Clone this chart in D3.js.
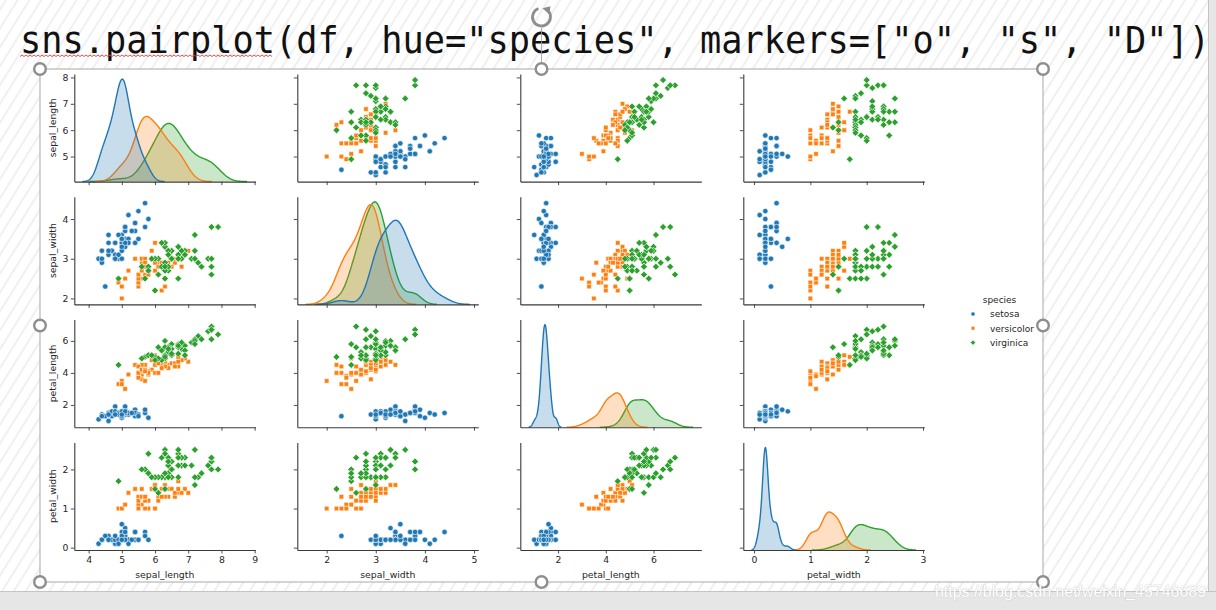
<!DOCTYPE html>
<html><head><meta charset="utf-8">
<script src="https://cdn.jsdelivr.net/npm/d3@7/dist/d3.min.js"></script>
<style>html,body{margin:0;padding:0;background:#fff;}svg{display:block;}</style>
</head><body><svg id="c" width="1216" height="610"></svg>
<script>
// ---------------- data (iris, as plotted) ----------------
const variables = ["sepal_length", "sepal_width", "petal_length", "petal_width"];
const speciesNames = ["setosa", "versicolor", "virginica"];
const speciesColors = ["#1f77b4", "#ff7f0e", "#2ca02c"];
const sepal_length = [
 5.1,4.9,4.7,4.6,5.0,5.4,4.6,5.0,4.4,4.9,5.4,4.8,4.8,4.3,5.8,5.7,5.4,5.1,5.7,5.1,5.4,5.1,4.6,5.1,4.8,5.0,5.0,5.2,5.2,4.7,4.8,5.4,5.2,5.5,4.9,5.0,5.5,4.9,4.4,5.1,5.0,4.5,4.4,5.0,5.1,4.8,5.1,4.6,5.3,5.0,
 7.0,6.4,6.9,5.5,6.5,5.7,6.3,4.9,6.6,5.2,5.0,5.9,6.0,6.1,5.6,6.7,5.6,5.8,6.2,5.6,5.9,6.1,6.3,6.1,6.4,6.6,6.8,6.7,6.0,5.7,5.5,5.5,5.8,6.0,5.4,6.0,6.7,6.3,5.6,5.5,5.5,6.1,5.8,5.0,5.6,5.7,5.7,6.2,5.1,5.7,
 6.3,5.8,7.1,6.3,6.5,7.6,4.9,7.3,6.7,7.2,6.5,6.4,6.8,5.7,5.8,6.4,6.5,7.7,7.7,6.0,6.9,5.6,7.7,6.3,6.7,7.2,6.2,6.1,6.4,7.2,7.4,7.9,6.4,6.3,6.1,7.7,6.3,6.4,6.0,6.9,6.7,6.9,5.8,6.8,6.7,6.7,6.3,6.5,6.2,5.9];
const sepal_width = [
 3.5,3.0,3.2,3.1,3.6,3.9,3.4,3.4,2.9,3.1,3.7,3.4,3.0,3.0,4.0,4.4,3.9,3.5,3.8,3.8,3.4,3.7,3.6,3.3,3.4,3.0,3.4,3.5,3.4,3.2,3.1,3.4,4.1,4.2,3.1,3.2,3.5,3.6,3.0,3.4,3.5,2.3,3.2,3.5,3.8,3.0,3.8,3.2,3.7,3.3,
 3.2,3.2,3.1,2.3,2.8,2.8,3.3,2.4,2.9,2.7,2.0,3.0,2.2,2.9,2.9,3.1,3.0,2.7,2.2,2.5,3.2,2.8,2.5,2.8,2.9,3.0,2.8,3.0,2.9,2.6,2.4,2.4,2.7,2.7,3.0,3.4,3.1,2.3,3.0,2.5,2.6,3.0,2.6,2.3,2.7,3.0,2.9,2.9,2.5,2.8,
 3.3,2.7,3.0,2.9,3.0,3.0,2.5,2.9,2.5,3.6,3.2,2.7,3.0,2.5,2.8,3.2,3.0,3.8,2.6,2.2,3.2,2.8,2.8,2.7,3.3,3.2,2.8,3.0,2.8,3.0,2.8,3.8,2.8,2.8,2.6,3.0,3.4,3.1,3.0,3.1,3.1,3.1,2.7,3.2,3.3,3.0,2.5,3.0,3.4,3.0];
const petal_length = [
 1.4,1.4,1.3,1.5,1.4,1.7,1.4,1.5,1.4,1.5,1.5,1.6,1.4,1.1,1.2,1.5,1.3,1.4,1.7,1.5,1.7,1.5,1.0,1.7,1.9,1.6,1.6,1.5,1.4,1.6,1.6,1.5,1.5,1.4,1.5,1.2,1.3,1.4,1.3,1.5,1.3,1.3,1.3,1.6,1.9,1.4,1.6,1.4,1.5,1.4,
 4.7,4.5,4.9,4.0,4.6,4.5,4.7,3.3,4.6,3.9,3.5,4.2,4.0,4.7,3.6,4.4,4.5,4.1,4.5,3.9,4.8,4.0,4.9,4.7,4.3,4.4,4.8,5.0,4.5,3.5,3.8,3.7,3.9,5.1,4.5,4.5,4.7,4.4,4.1,4.0,4.4,4.6,4.0,3.3,4.2,4.2,4.2,4.3,3.0,4.1,
 6.0,5.1,5.9,5.6,5.8,6.6,4.5,6.3,5.8,6.1,5.1,5.3,5.5,5.0,5.1,5.3,5.5,6.7,6.9,5.0,5.7,4.9,6.7,4.9,5.7,6.0,4.8,4.9,5.6,5.8,6.1,6.4,5.6,5.1,5.6,6.1,5.6,5.5,4.8,5.4,5.6,5.1,5.1,5.9,5.7,5.2,5.0,5.2,5.4,5.1];
const petal_width = [
 0.2,0.2,0.2,0.2,0.2,0.4,0.3,0.2,0.2,0.1,0.2,0.2,0.1,0.1,0.2,0.4,0.4,0.3,0.3,0.3,0.2,0.4,0.2,0.5,0.2,0.2,0.4,0.2,0.2,0.2,0.2,0.4,0.1,0.2,0.2,0.2,0.2,0.1,0.2,0.2,0.3,0.3,0.2,0.6,0.4,0.3,0.2,0.2,0.2,0.2,
 1.4,1.5,1.5,1.3,1.5,1.3,1.6,1.0,1.3,1.4,1.0,1.5,1.0,1.4,1.3,1.4,1.5,1.0,1.5,1.1,1.8,1.3,1.5,1.2,1.3,1.4,1.4,1.7,1.5,1.0,1.1,1.0,1.2,1.6,1.5,1.6,1.5,1.3,1.3,1.3,1.2,1.4,1.2,1.0,1.3,1.2,1.3,1.3,1.1,1.3,
 2.5,1.9,2.1,1.8,2.2,2.1,1.7,1.8,1.8,2.5,2.0,1.9,2.1,2.0,2.4,2.3,1.8,2.2,2.3,1.5,2.3,2.0,2.0,1.8,2.1,1.8,1.8,1.8,2.1,1.6,1.9,2.0,2.2,1.5,1.4,2.3,2.4,1.8,1.8,2.1,2.4,2.3,1.9,2.3,2.5,2.3,1.9,2.0,2.3,1.8];
const speciesCount = [50, 50, 50];
const species = speciesNames.flatMap((s, i) => Array(speciesCount[i]).fill(s));
const columns = [sepal_length, sepal_width, petal_length, petal_width];
// tick labels
const xTickValues = [[4,5,6,7,8,9],[2,3,4,5],[2,4,6],[0,1,2,3]];
const yTickValues = [[5,6,7,8],[2,3,4],[2,4,6],[0,1,2]];
// y limits of the rows
const yDomains = [[4.05, 8.13],[1.85, 4.56],[0.61, 7.33],[-0.06, 2.69]];
const titleText = 'sns.pairplot(df, hue="species", markers=["o", "s", "D"])';
const watermark = "https://blog.csdn.net/weixin_45746689";

// ---------------- layout ----------------
const colLeft = j => 74.3 + 223 * j, colW = 181;
const rowTop = i => 74 + 122.8 * i, rowH = 107.6;
const INK = "#262626";

const svg = d3.select("#c");
const defs = svg.append("defs");
const pat = defs.append("pattern").attr("id","hatch").attr("patternUnits","userSpaceOnUse")
  .attr("width",10).attr("height",10).attr("patternTransform","rotate(32)");
pat.append("rect").attr("width",10).attr("height",10).attr("fill","#ffffff");
pat.append("line").attr("x1",5).attr("y1",0).attr("x2",5).attr("y2",10).attr("stroke","#e9e9e9").attr("stroke-width",1.3);

// slide background
svg.append("rect").attr("width",1216).attr("height",610).attr("fill","#e6e6e6");
svg.append("rect").attr("x",0).attr("y",0).attr("width",1208).attr("height",591).attr("fill","url(#hatch)");
svg.append("line").attr("x1",1208.5).attr("x2",1208.5).attr("y1",0).attr("y2",591).attr("stroke","#c4c4c4");
svg.append("line").attr("x1",0).attr("x2",1216).attr("y1",591.5).attr("y2",591.5).attr("stroke","#c4c4c4");

// title text
svg.append("text").attr("transform","translate(20,53) scale(1,1.07)").attr("font-family","DejaVu Sans Mono, Liberation Mono, monospace")
  .attr("font-size",35).attr("fill","#111").attr("textLength",1190).attr("lengthAdjust","spacingAndGlyphs")
  .text(titleText);
// red squiggle under sns.pairplot
{
  let p = "M20,56.5"; let up = true;
  for (let x = 22; x <= 272; x += 2) { p += `L${x},${up ? 55 : 56.5}`; up = !up; }
  svg.append("path").attr("d",p).attr("fill","none").attr("stroke","#e23a3a").attr("stroke-width",0.9);
}

// picture frame
svg.append("rect").attr("x",40).attr("y",69).attr("width",1003).attr("height",513)
  .attr("fill","#fff").attr("stroke","#a8a8a8").attr("stroke-width",1);

// ---------------- KDE on the diagonal ----------------
function kdeCurve(vals) {
  const n = vals.length, bw = d3.deviation(vals) * Math.pow(n, -0.2);
  const lo = d3.min(vals) - 3 * bw, hi = d3.max(vals) + 3 * bw;
  const N = 200, pts = [];
  const total = d3.sum(speciesCount);
  for (let k = 0; k < N; k++) {
    const x = lo + (hi - lo) * k / (N - 1);
    let s = 0;
    for (const v of vals) { const u = (x - v) / bw; s += Math.exp(-0.5 * u * u); }
    const dens = s / (n * bw * Math.sqrt(2 * Math.PI)) * (n / total);
    pts.push([x, dens]);
  }
  return pts;
}
const kdes = columns.map(col => speciesNames.map(sp => kdeCurve(col.filter((v, k) => species[k] === sp))));
const xDomains = kdes.map(list => {
  const lo = d3.min(list, c => c[0][0]), hi = d3.max(list, c => c[c.length - 1][0]);
  const r = hi - lo; return [lo - 0.05 * r, hi + 0.05 * r];
});

const markerPath = [
  d3.symbol().type(d3.symbolCircle).size(23)(),
  d3.symbol().type(d3.symbolSquare).size(21)(),
  d3.symbol().type(d3.symbolSquare).size(24)()
];
const markerRot = [0, 0, 45];

for (let i = 0; i < 4; i++) {
  for (let j = 0; j < 4; j++) {
    const x = d3.scaleLinear().domain(xDomains[j]).range([colLeft(j), colLeft(j) + colW]);
    const y = d3.scaleLinear().domain(yDomains[i]).range([rowTop(i) + rowH, rowTop(i)]);
    const g = svg.append("g");
    if (i === j) {
      const curves = kdes[j];
      const ymax = d3.max(curves, c => d3.max(c, p => p[1]));
      const ky = d3.scaleLinear().domain([0, ymax * 1.05]).range([rowTop(i) + rowH, rowTop(i)]);
      const area = d3.area().x(p => x(p[0])).y0(ky(0)).y1(p => ky(p[1])).curve(d3.curveLinear);
      const line = d3.line().x(p => x(p[0])).y(p => ky(p[1]));
      for (let s = 2; s >= 0; s--) {
        g.append("path").attr("d", area(curves[s])).attr("fill", speciesColors[s]).attr("fill-opacity", 0.25);
        g.append("path").attr("d", line(curves[s])).attr("fill","none").attr("stroke", speciesColors[s]).attr("stroke-width", 1.4);
      }
    } else {
      const xs = columns[j], ys = columns[i];
      for (let k = 0; k < xs.length; k++) {
        const s = speciesNames.indexOf(species[k]);
        g.append("path").attr("d", markerPath[s])
          .attr("transform", `translate(${x(xs[k])},${y(ys[k])}) rotate(${markerRot[s]})`)
          .attr("fill", speciesColors[s]).attr("stroke","#fff").attr("stroke-width",0.6);
      }
    }
    // axes
    const ax = d3.axisBottom(x).tickValues(xTickValues[j]).tickSize(3.5).tickSizeOuter(0).tickPadding(2.5)
      .tickFormat(i === 3 ? d3.format("d") : () => "");
    const gx = svg.append("g").attr("transform", `translate(0,${rowTop(i) + rowH})`).call(ax);
    const ay = d3.axisLeft(y).tickValues(yTickValues[i]).tickSize(3.5).tickSizeOuter(0).tickPadding(2.5)
      .tickFormat(j === 0 ? d3.format("d") : () => "");
    const gy = svg.append("g").attr("transform", `translate(${colLeft(j)},0)`).call(ay);
    [gx, gy].forEach(a => {
      a.select(".domain").attr("stroke", "#3a3a3a").attr("stroke-width", 1.1);
      a.selectAll(".tick line").attr("stroke", "#3a3a3a").attr("stroke-width", 0.9);
      a.selectAll(".tick text").attr("fill", INK).attr("font-size", 9.3).attr("font-family","DejaVu Sans");
    });
    if (i === 3) {
      svg.append("text").attr("x", colLeft(j) + colW / 2).attr("y", 578).attr("text-anchor","middle")
        .attr("font-family","DejaVu Sans").attr("font-size",9.3).attr("fill",INK).text(variables[j]);
    }
    if (j === 0) {
      const cy = rowTop(i) + rowH / 2;
      svg.append("text").attr("transform", `translate(56,${cy}) rotate(-90)`).attr("text-anchor","middle")
        .attr("font-family","DejaVu Sans").attr("font-size",9.3).attr("fill",INK).text(variables[i]);
    }
  }
}

// legend
svg.append("text").attr("x",999.5).attr("y",302.5).attr("text-anchor","middle").attr("font-family","DejaVu Sans")
  .attr("font-size",9).attr("fill",INK).text("species");
const legMarker = [
  d3.symbol().type(d3.symbolCircle).size(14)(),
  d3.symbol().type(d3.symbolSquare).size(13)(),
  d3.symbol().type(d3.symbolSquare).size(13)()
];
speciesNames.forEach((s, k) => {
  const ly = 314 + 14.3 * k;
  svg.append("path").attr("d", legMarker[k]).attr("transform", `translate(973,${ly}) rotate(${markerRot[k]})`)
    .attr("fill", speciesColors[k]).attr("stroke","#fff").attr("stroke-width",0.5);
  svg.append("text").attr("x",990).attr("y",ly + 3.3).attr("font-family","DejaVu Sans").attr("font-size",9)
    .attr("fill",INK).text(s);
});

// selection handles
const handles = [[40,69],[541.5,69],[1043,69],[40,325.5],[1043,325.5],[40,582],[541.5,582],[1043,582]];
svg.append("line").attr("x1",541.5).attr("x2",541.5).attr("y1",28).attr("y2",63).attr("stroke","#9a9a9a").attr("stroke-width",0.8);
handles.forEach(h => svg.append("circle").attr("cx",h[0]).attr("cy",h[1]).attr("r",5.8)
  .attr("fill","#fff").attr("stroke","#8e8e8e").attr("stroke-width",2.4));
// rotation handle
{
  const cx = 541.5, cy = 17, r = 9;
  const a0 = -40 * Math.PI / 180, a1 = 250 * Math.PI / 180;
  svg.append("path").attr("d", `M${cx + r*Math.cos(a0)},${cy + r*Math.sin(a0)} A${r},${r} 0 1 1 ${cx + r*Math.cos(a1)},${cy + r*Math.sin(a1)}`)
    .attr("fill","none").attr("stroke","#8e8e8e").attr("stroke-width",2.8);
  const ex = cx + r*Math.cos(a0), ey = cy + r*Math.sin(a0);
  svg.append("path").attr("d", `M${ex-6},${ey-3} L${ex+2},${ey-5} L${ex+1},${ey+3} Z`).attr("fill","#8e8e8e");
}

// watermark
svg.append("text").attr("x",935).attr("y",597).attr("font-family","Liberation Sans, Arial").attr("font-size",16)
  .attr("textLength",271).attr("lengthAdjust","spacingAndGlyphs")
  .attr("fill","#ffffff").attr("stroke","#c8c8c8").attr("stroke-width",0.7).attr("paint-order","stroke").text(watermark);
</script></body></html>
